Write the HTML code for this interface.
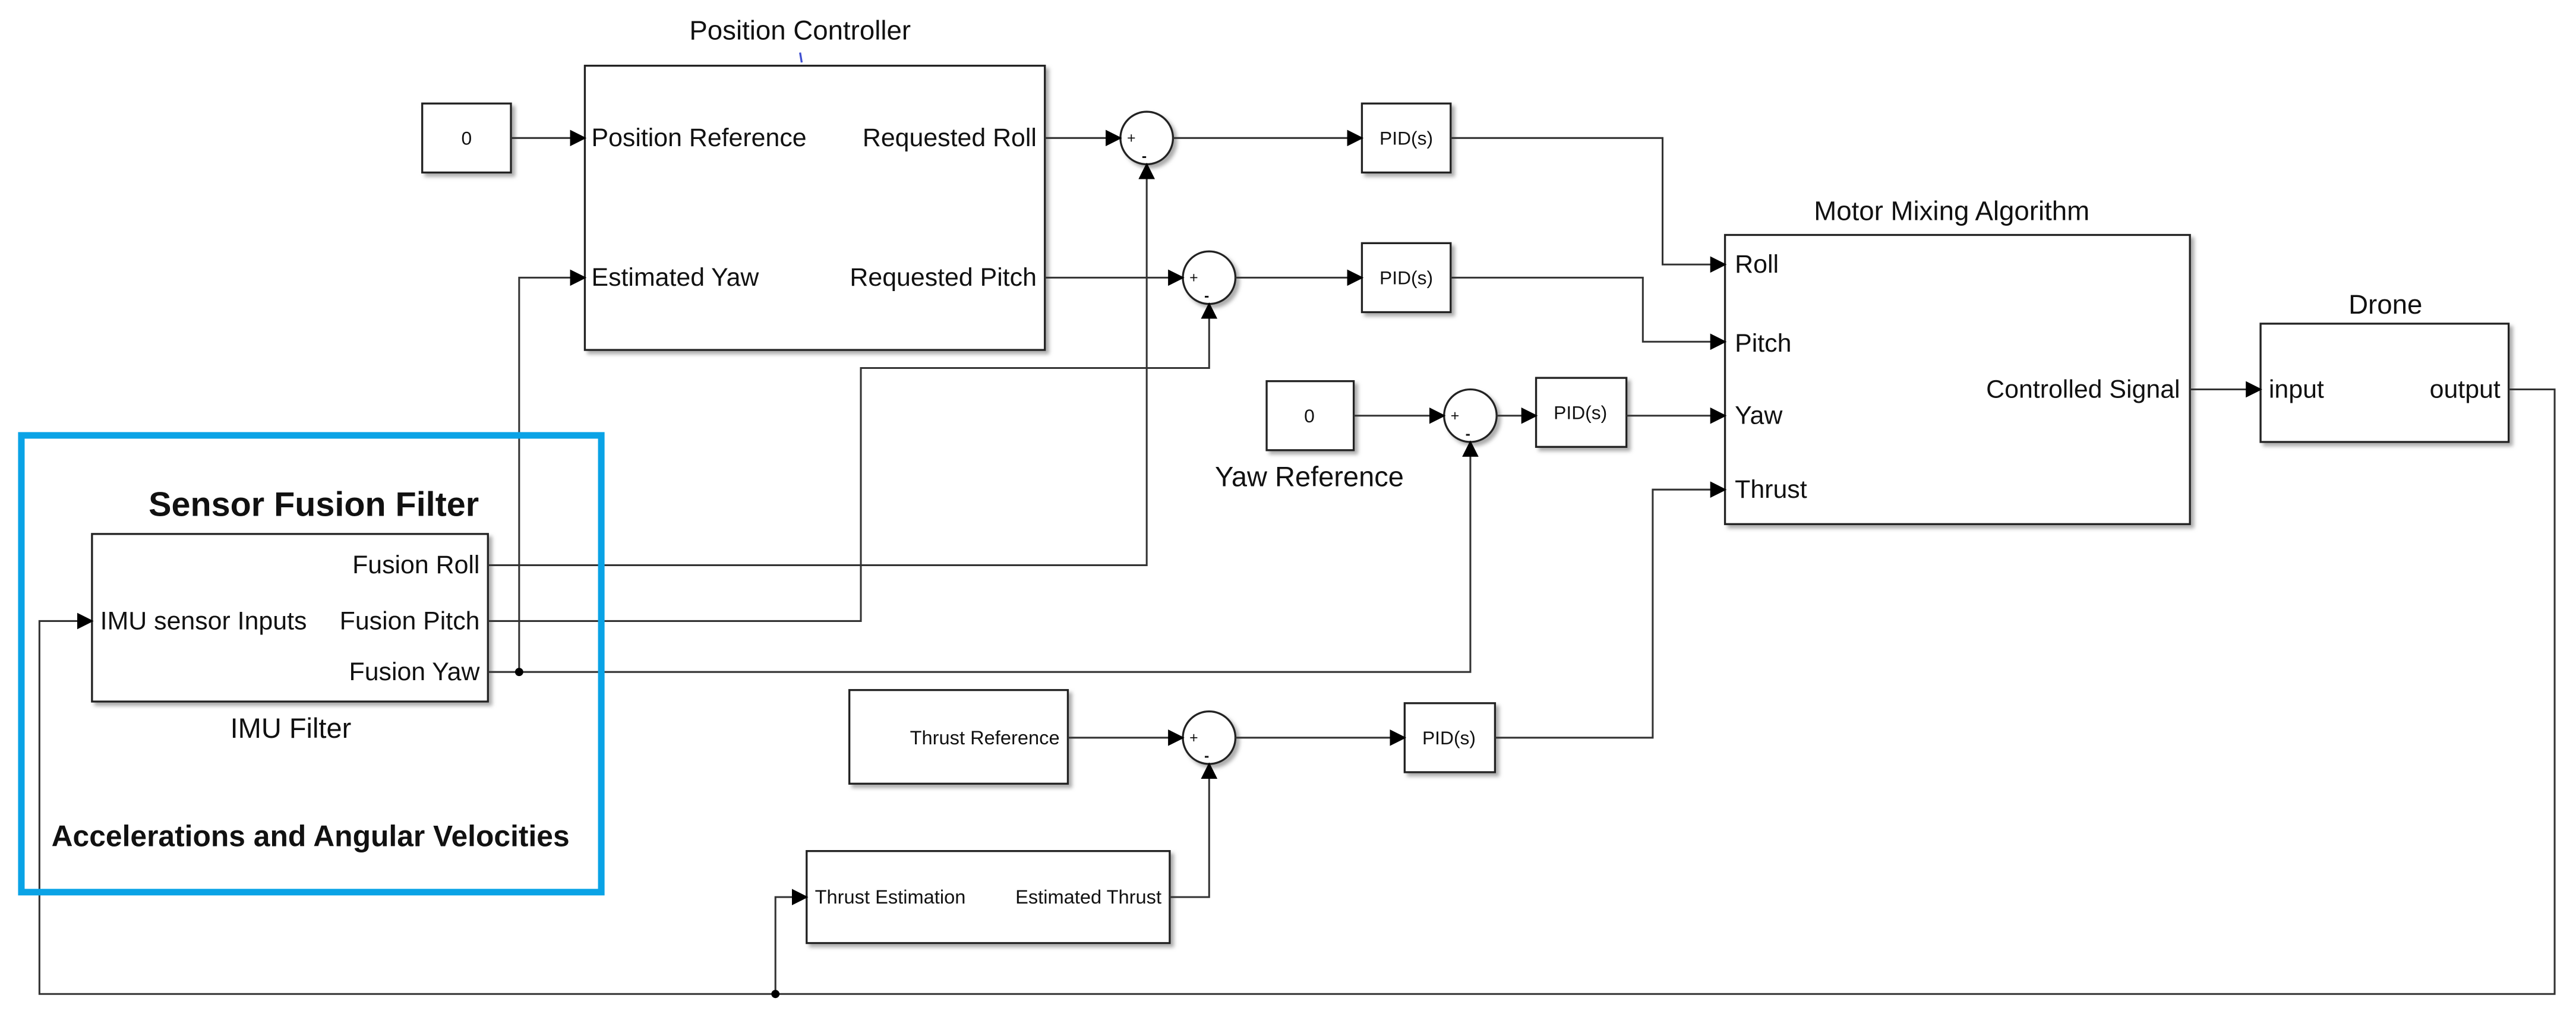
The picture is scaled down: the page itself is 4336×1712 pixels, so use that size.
<!DOCTYPE html>
<html><head><meta charset="utf-8"><style>
html,body{margin:0;padding:0;background:#fff;}
svg{display:block;}
text{font-family:"Liberation Sans",Arial,sans-serif;fill:#111;}
</style></head><body>
<svg width="4336" height="1712" viewBox="0 0 1568 619" preserveAspectRatio="none" xmlns="http://www.w3.org/2000/svg">
<defs>
<marker id="a" markerWidth="10" markerHeight="10" refX="9" refY="5" orient="auto" markerUnits="userSpaceOnUse">
<path d="M0,0 L10,5 L0,10 z" fill="#000"/></marker>
<filter id="s" x="-10%" y="-10%" width="130%" height="130%"><feDropShadow dx="2" dy="2" stdDeviation="1.2" flood-color="#888" flood-opacity="0.7"/></filter>
</defs>
<g fill="#fff" stroke="#222" stroke-width="1.2" filter="url(#s)">
<rect x="356" y="40" width="280" height="173"/>
<rect x="257" y="63" width="54" height="42"/>
<rect x="829" y="63" width="54" height="42"/>
<rect x="829" y="148" width="54" height="42"/>
<rect x="1050" y="143" width="283" height="176"/>
<rect x="771" y="232" width="53" height="42"/>
<rect x="935" y="230" width="55" height="42"/>
<rect x="1376" y="197" width="151" height="72"/>
<rect x="56" y="325" width="241" height="102"/>
<rect x="517" y="420" width="133" height="57"/>
<rect x="855" y="428" width="55" height="42"/>
<rect x="491" y="518" width="221" height="56"/>
<circle cx="698" cy="84" r="16"/>
<circle cx="736" cy="169" r="16"/>
<circle cx="895" cy="253" r="16"/>
<circle cx="736" cy="449" r="16"/>
</g>
<g fill="none" stroke="#333" stroke-width="1.1">
<path d="M311,84 H356" marker-end="url(#a)"/>
<path d="M636,84 H682" marker-end="url(#a)"/>
<path d="M636,169 H720" marker-end="url(#a)"/>
<path d="M714,84 H829" marker-end="url(#a)"/>
<path d="M752,169 H829" marker-end="url(#a)"/>
<path d="M883,84 H1012 V161 H1050" marker-end="url(#a)"/>
<path d="M883,169 H1000 V208 H1050" marker-end="url(#a)"/>
<path d="M824,253 H879" marker-end="url(#a)"/>
<path d="M911,253 H935" marker-end="url(#a)"/>
<path d="M990,253 H1050" marker-end="url(#a)"/>
<path d="M1333,237 H1376" marker-end="url(#a)"/>
<path d="M1527,237 H1555 V605 H24 V378 H56" marker-end="url(#a)"/>
<path d="M297,344 H698 V100" marker-end="url(#a)"/>
<path d="M297,378 H524 V224 H736 V185" marker-end="url(#a)"/>
<path d="M297,409 H895 V269" marker-end="url(#a)"/>
<path d="M316,409 V169 H356" marker-end="url(#a)"/>
<path d="M650,449 H720" marker-end="url(#a)"/>
<path d="M752,449 H855" marker-end="url(#a)"/>
<path d="M910,449 H1006 V298 H1050" marker-end="url(#a)"/>
<path d="M712,546 H736 V465" marker-end="url(#a)"/>
<path d="M472,605 V546 H491" marker-end="url(#a)"/>
</g>
<circle cx="316" cy="409" r="2.5" fill="#000"/>
<circle cx="472" cy="605" r="2.5" fill="#000"/>
<line x1="487" y1="32" x2="488" y2="38" stroke="#4050d0" stroke-width="1.2"/>
<rect x="13" y="265" width="353" height="278" fill="none" stroke="#0aa3e6" stroke-width="4"/>
<g font-size="15.5">
<text x="487" y="24" text-anchor="middle" font-size="16.5">Position Controller</text>
<text x="360" y="89">Position Reference</text>
<text x="631" y="89" text-anchor="end">Requested Roll</text>
<text x="360" y="174">Estimated Yaw</text>
<text x="631" y="174" text-anchor="end">Requested Pitch</text>
<text x="1188" y="134" text-anchor="middle" font-size="16.5">Motor Mixing Algorithm</text>
<text x="1056" y="166">Roll</text>
<text x="1056" y="214">Pitch</text>
<text x="1056" y="258">Yaw</text>
<text x="1056" y="303">Thrust</text>
<text x="1327" y="242" text-anchor="end">Controlled Signal</text>
<text x="1452" y="191" text-anchor="middle" font-size="16.5">Drone</text>
<text x="1381" y="242">input</text>
<text x="1522" y="242" text-anchor="end">output</text>
<text x="797" y="296" text-anchor="middle" font-size="17">Yaw Reference</text>
<text x="292" y="349" text-anchor="end">Fusion Roll</text>
<text x="292" y="383" text-anchor="end">Fusion Pitch</text>
<text x="292" y="414" text-anchor="end">Fusion Yaw</text>
<text x="61" y="383">IMU sensor Inputs</text>
<text x="177" y="449" text-anchor="middle" font-size="17">IMU Filter</text>
</g>
<text x="191" y="314" text-anchor="middle" font-size="20.8" font-weight="bold">Sensor Fusion Filter</text>
<text x="189" y="515" text-anchor="middle" font-size="18" font-weight="bold">Accelerations and Angular Velocities</text>
<g font-size="11.5" text-anchor="middle">
<text x="284" y="88">0</text>
<text x="797" y="257">0</text>
<text x="856" y="88">PID(s)</text>
<text x="856" y="173">PID(s)</text>
<text x="962" y="255">PID(s)</text>
<text x="882" y="453">PID(s)</text>
</g>
<g font-size="11.8">
<text x="645" y="453" text-anchor="end">Thrust Reference</text>
<text x="496" y="550">Thrust Estimation</text>
<text x="707" y="550" text-anchor="end">Estimated Thrust</text>
</g>
<g font-size="9">
<text x="686" y="87">+</text><text x="695" y="98" font-weight="bold">-</text>
<text x="724" y="172">+</text><text x="733" y="183" font-weight="bold">-</text>
<text x="883" y="256">+</text><text x="892" y="267" font-weight="bold">-</text>
<text x="724" y="452">+</text><text x="733" y="463" font-weight="bold">-</text>
</g>
</svg>
</body></html>
